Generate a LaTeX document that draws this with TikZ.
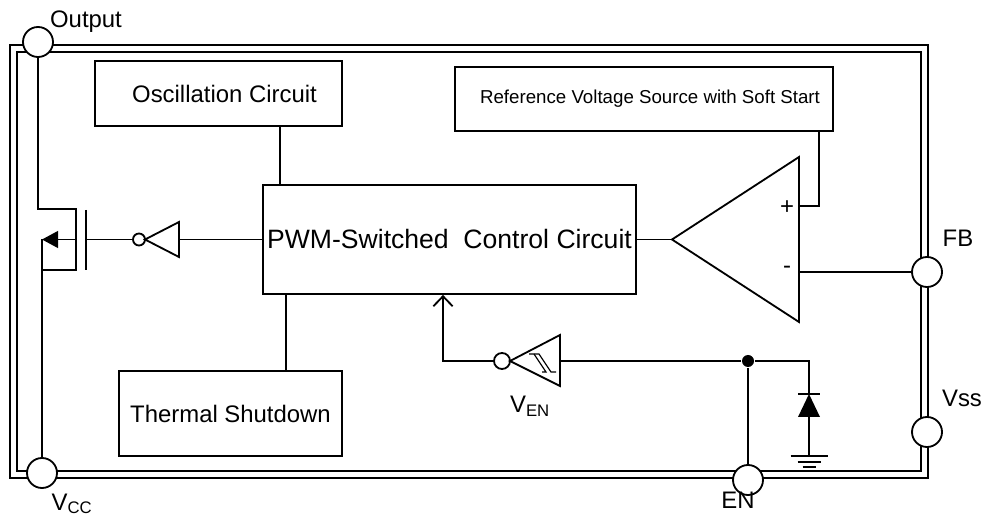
\documentclass[tikz,border=0pt]{standalone}
\usepackage{fontspec}
\setmainfont{Liberation Sans}
\usetikzlibrary{arrows.meta,positioning,calc}

\begin{document}
\begin{tikzpicture}[
    line width=1.3pt,
    box/.style={rectangle, draw, fill=white, inner sep=0pt, font=\fontsize{17}{20}\selectfont},
    pin/.style={circle, draw, fill=white, minimum size=0.75cm, inner sep=0pt},
    lbl/.style={font=\fontsize{17}{20}\selectfont},
    bubble/.style={circle, draw, fill=white, inner sep=0pt},
    dot/.style={circle, fill, inner sep=0pt, minimum size=0.3cm},
    arrow/.style={-{Straight Barb[length=2.5mm, width=4.8mm]}}
]
\useasboundingbox (0,0) rectangle (24.7,12.9);

% Package outline
\draw (0.25,0.95) rectangle (23.2,11.775);
\draw (0.425,1.125) rectangle (23.025,11.6);

% Blocks
\node[box, minimum width=6.175cm, minimum height=1.625cm] (osc) at (5.4625,10.5625) {\hspace{0.3cm}Oscillation Circuit};
\node[box, minimum width=9.45cm, minimum height=1.6cm, font=\fontsize{13.3}{16}\selectfont] (ref) at (16.1,10.425) {\hspace{0.3cm}Reference Voltage Source with Soft Start};
\node[box, minimum width=9.325cm, minimum height=2.725cm, font=\fontsize{18.9}{22}\selectfont] (pwm) at (11.2375,6.9125) {PWM-Switched\ \ Control Circuit};
\node[box, minimum width=5.575cm, minimum height=2.125cm] (therm) at (5.7625,2.5625) {Thermal Shutdown};

% Error amplifier
\coordinate (amptip) at (16.8,6.9125);
\coordinate (ampp) at (19.975,7.75);
\coordinate (ampn) at (19.975,6.1);
\draw (amptip) -- (19.975,8.975) -- (19.975,4.85) -- cycle;
\node[lbl] (plus) at (19.675,7.72) {+};
\node[lbl] (minus) at (19.675,6.15) {-};

% Block connections
\draw ([xshift=0.45cm]pwm.north west) -- ([xshift=0.45cm]pwm.north west |- osc.south);
\draw ([xshift=0.6cm]pwm.south west) -- ([xshift=0.6cm]pwm.south west |- therm.north);
\draw ([xshift=-0.375cm]ref.south east) |- (ampp);
\draw (pwm.east) -- (amptip);

% Pins
\node[pin] (pout) at (0.95,11.85) {};
\node[pin] (pvcc) at (1.05,1.075) {};
\node[pin] (pen) at (18.7,0.9) {};
\node[pin] (pfb) at (23.175,6.1) {};
\node[pin] (pvss) at (23.175,2.1) {};

\node[lbl] (lout) at (2.15,12.35) {Output};
\node[lbl] (lvcc) at (1.8,0.3) {V\textsubscript{CC}};
\node[lbl] (len) at (18.45,0.4) {EN};
\node[lbl] (lfb) at (23.95,6.95) {FB};
\node[lbl] (lvss) at (24.05,2.95) {Vss};

\draw (ampn) -- (pfb);

% Output transistor
\coordinate (drain) at (1.9,7.675);
\coordinate (src) at (1.9,6.15);
\coordinate (body) at (1.9,6.9125);
\coordinate (srcpin) at (1.05,6.9125);
\coordinate (gate) at (2.15,6.9125);
\draw (pout) -- (pout |- drain) -- (drain) -- (src) -- (src -| srcpin);
\draw[-{Triangle[length=4mm, width=4.2mm]}] (body) -- (srcpin);
\draw (srcpin) -- (pvcc);
\draw (2.15,7.65) -- (2.15,6.15);

% Gate driver
\node[bubble, minimum size=0.3cm] (invb) at (3.475,6.9125) {};
\draw (3.625,6.9125) -- (4.475,7.35) -- (4.475,6.475) -- cycle;
\draw (gate) -- (invb);
\draw (pwm.west) -- (4.475,6.9125);

% Enable input
\node[bubble, minimum size=0.4cm] (enb) at (12.55,3.875) {};
\draw (12.75,3.875) -- (14.0,4.525) -- (14.0,3.25) -- cycle;
\draw[line width=0.8pt] (13.225,4.05) -- (13.475,4.05) -- (13.775,3.6) -- (13.9,3.6);
\draw[line width=0.8pt] (13.35,4.05) -- (13.65,3.6) -- (13.55,3.6);
\node[lbl] (lven) at (13.25,2.75) {V\textsubscript{EN}};
\draw[arrow] (enb) -| ([xshift=-0.1625cm]pwm.south);

\node[dot] (jn) at (18.7,3.875) {};
\draw (14.0,3.875) -- (jn);
\draw (jn) -- (pen);

% Clamp diode to ground
\coordinate (dk) at (20.225,3.05);
\coordinate (da) at (20.225,2.475);
\coordinate (gnd) at (20.225,1.5);
\draw (jn) -| (dk);
\draw (19.95,3.05) -- (20.5,3.05);
\fill (dk) -- (19.95,2.475) -- (20.5,2.475) -- cycle;
\draw (da) -- (gnd);
\draw (19.7625,1.5) -- (20.6875,1.5);
\draw (19.9375,1.35) -- (20.5125,1.35);
\draw (20.0625,1.225) -- (20.3875,1.225);

\end{tikzpicture}
\end{document}
